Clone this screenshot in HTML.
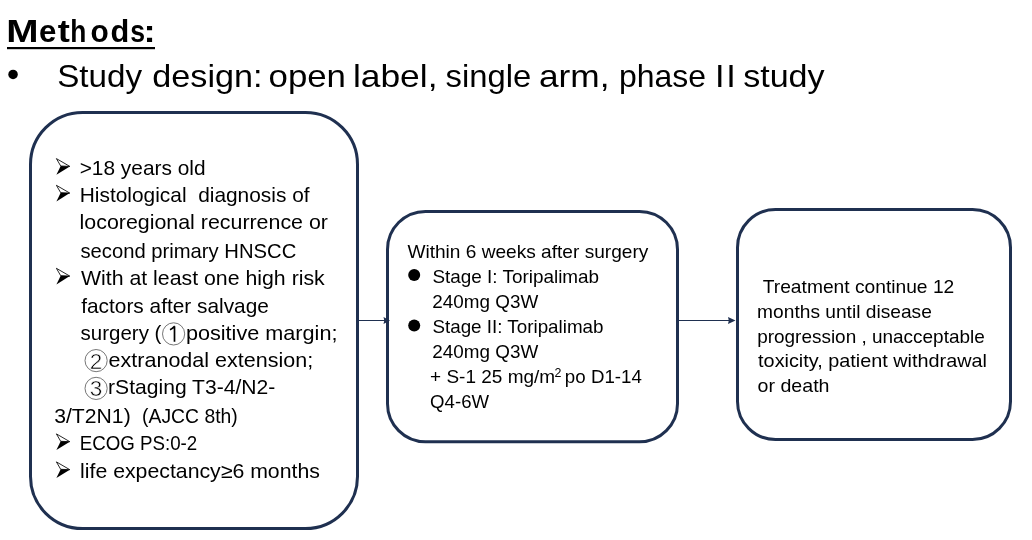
<!DOCTYPE html>
<html><head><meta charset="utf-8"><style>
html,body{margin:0;padding:0;background:#fff;width:1032px;height:540px;overflow:hidden}
svg{display:block;will-change:transform}
text{font-family:"Liberation Sans", sans-serif;fill:#000}
</style></head><body>
<svg width="1032" height="540" viewBox="0 0 1032 540">
<rect width="1032" height="540" fill="#fff"/>
<rect x="30.5" y="112.4" width="327" height="416.2" rx="52" ry="52" fill="none" stroke="#1f3050" stroke-width="3"/>
<rect x="387.5" y="211.4" width="290" height="230.3" rx="38" ry="38" fill="none" stroke="#1f3050" stroke-width="3"/>
<rect x="737.5" y="209.5" width="273" height="230" rx="38" ry="38" fill="none" stroke="#1f3050" stroke-width="3"/>
<line x1="359" y1="320.5" x2="386" y2="320.5" stroke="#1f3050" stroke-width="1.05"/>
<path d="M383.5,317 L390,320.5 L383.5,324 L384.3,320.5 Z" fill="#1f3050"/>
<line x1="679" y1="320.5" x2="731" y2="320.5" stroke="#1f3050" stroke-width="1.05"/>
<path d="M728,317 L735.5,320.5 L728,324 L728.8,320.5 Z" fill="#1f3050"/>
<rect x="7" y="47" width="148" height="2.2" fill="#000"/>
<circle cx="13.05" cy="74.4" r="4.75" fill="#000"/>
<path d="M56.40,158.60 L69.80,166.40 L60.70,166.00 Z" fill="#fff" stroke="#000" stroke-width="0.85" stroke-linejoin="miter"/>
<path d="M60.70,166.00 L69.80,166.40 L56.40,174.80 Z" fill="#000"/>
<path d="M56.40,185.30 L69.80,193.10 L60.70,192.70 Z" fill="#fff" stroke="#000" stroke-width="0.85" stroke-linejoin="miter"/>
<path d="M60.70,192.70 L69.80,193.10 L56.40,201.50 Z" fill="#000"/>
<path d="M56.40,268.30 L69.80,276.10 L60.70,275.70 Z" fill="#fff" stroke="#000" stroke-width="0.85" stroke-linejoin="miter"/>
<path d="M60.70,275.70 L69.80,276.10 L56.40,284.50 Z" fill="#000"/>
<path d="M56.40,433.90 L69.80,441.70 L60.70,441.30 Z" fill="#fff" stroke="#000" stroke-width="0.85" stroke-linejoin="miter"/>
<path d="M60.70,441.30 L69.80,441.70 L56.40,450.10 Z" fill="#000"/>
<path d="M56.40,461.90 L69.80,469.70 L60.70,469.30 Z" fill="#fff" stroke="#000" stroke-width="0.85" stroke-linejoin="miter"/>
<path d="M60.70,469.30 L69.80,469.70 L56.40,478.10 Z" fill="#000"/>
<circle cx="173.60" cy="333.90" r="11.1" fill="none" stroke="#666" stroke-width="0.9"/>
<path d="M174.50,326.30 L174.50,341.80 M174.80,326.10 Q172.10,328.90 170.00,329.70" fill="none" stroke="#000" stroke-width="1.7"/>
<circle cx="96.10" cy="360.60" r="11.1" fill="none" stroke="#666" stroke-width="0.9"/>
<text x="96.10" y="368.50" font-size="22.5" text-anchor="middle" stroke="#fff" stroke-width="0.5">2</text>
<circle cx="96.10" cy="388.40" r="11.1" fill="none" stroke="#666" stroke-width="0.9"/>
<text x="96.10" y="396.30" font-size="22.5" text-anchor="middle" stroke="#fff" stroke-width="0.5">3</text>
<circle cx="414.2" cy="275.1" r="6" fill="#000"/>
<circle cx="414.2" cy="325.6" r="6" fill="#000"/>
<text x="554.5" y="376.50" font-size="12.3" textLength="6.9" lengthAdjust="spacingAndGlyphs">2</text>
<text x="6.31" y="42.40" font-size="32" font-weight="bold" textLength="32.29" lengthAdjust="spacingAndGlyphs" xml:space="preserve">M</text>
<text x="39.08" y="42.40" font-size="32" font-weight="bold" textLength="17.39" lengthAdjust="spacingAndGlyphs" xml:space="preserve">e</text>
<text x="57.66" y="42.40" font-size="32" font-weight="bold" textLength="12.09" lengthAdjust="spacingAndGlyphs" xml:space="preserve">t</text>
<text x="70.26" y="42.40" font-size="32" font-weight="bold" textLength="16.07" lengthAdjust="spacingAndGlyphs" xml:space="preserve">h</text>
<text x="90.43" y="42.40" font-size="32" font-weight="bold" textLength="18.23" lengthAdjust="spacingAndGlyphs" xml:space="preserve">o</text>
<text x="110.54" y="42.40" font-size="32" font-weight="bold" textLength="18.79" lengthAdjust="spacingAndGlyphs" xml:space="preserve">d</text>
<text x="130.26" y="42.40" font-size="32" font-weight="bold" textLength="14.83" lengthAdjust="spacingAndGlyphs" xml:space="preserve">s</text>
<text x="143.51" y="42.40" font-size="32" font-weight="bold" textLength="12.08" lengthAdjust="spacingAndGlyphs" xml:space="preserve">:</text>
<text x="57.19" y="87.20" font-size="32" font-weight="normal" textLength="84.87" lengthAdjust="spacingAndGlyphs" xml:space="preserve">Study</text>
<text x="152.26" y="87.20" font-size="32" font-weight="normal" textLength="110.26" lengthAdjust="spacingAndGlyphs" xml:space="preserve">design:</text>
<text x="268.54" y="87.20" font-size="32" font-weight="normal" textLength="77.42" lengthAdjust="spacingAndGlyphs" xml:space="preserve">open</text>
<text x="352.92" y="87.20" font-size="32" font-weight="normal" textLength="84.56" lengthAdjust="spacingAndGlyphs" xml:space="preserve">label,</text>
<text x="445.59" y="87.20" font-size="32" font-weight="normal" textLength="85.67" lengthAdjust="spacingAndGlyphs" xml:space="preserve">single</text>
<text x="539.00" y="87.20" font-size="32" font-weight="normal" textLength="70.57" lengthAdjust="spacingAndGlyphs" xml:space="preserve">arm,</text>
<text x="618.94" y="87.20" font-size="32" font-weight="normal" textLength="86.98" lengthAdjust="spacingAndGlyphs" xml:space="preserve">phase</text>
<text x="715.03" y="87.20" font-size="32" font-weight="normal" textLength="9.53" lengthAdjust="spacingAndGlyphs" xml:space="preserve">I</text>
<text x="726.23" y="87.20" font-size="32" font-weight="normal" textLength="9.53" lengthAdjust="spacingAndGlyphs" xml:space="preserve">I</text>
<text x="743.15" y="87.20" font-size="32" font-weight="normal" textLength="81.41" lengthAdjust="spacingAndGlyphs" xml:space="preserve">study</text>
<text x="79.67" y="175.00" font-size="20.2" font-weight="normal" textLength="125.88" lengthAdjust="spacingAndGlyphs" xml:space="preserve">&gt;18 years old</text>
<text x="79.79" y="201.70" font-size="20.2" font-weight="normal" textLength="229.78" lengthAdjust="spacingAndGlyphs" xml:space="preserve">Histological  diagnosis of</text>
<text x="79.56" y="229.20" font-size="20.2" font-weight="normal" textLength="248.40" lengthAdjust="spacingAndGlyphs" xml:space="preserve">locoregional recurrence or</text>
<text x="80.44" y="257.50" font-size="20.2" font-weight="normal" textLength="215.83" lengthAdjust="spacingAndGlyphs" xml:space="preserve">second primary HNSCC</text>
<text x="80.91" y="284.70" font-size="20.2" font-weight="normal" textLength="243.86" lengthAdjust="spacingAndGlyphs" xml:space="preserve">With at least one high risk</text>
<text x="81.20" y="312.50" font-size="20.2" font-weight="normal" textLength="187.72" lengthAdjust="spacingAndGlyphs" xml:space="preserve">factors after salvage</text>
<text x="80.63" y="340.00" font-size="20.2" font-weight="normal" textLength="80.79" lengthAdjust="spacingAndGlyphs" xml:space="preserve">surgery (</text>
<text x="185.90" y="340.00" font-size="20.2" font-weight="normal" textLength="151.54" lengthAdjust="spacingAndGlyphs" xml:space="preserve">positive margin;</text>
<text x="108.59" y="366.80" font-size="20.2" font-weight="normal" textLength="204.55" lengthAdjust="spacingAndGlyphs" xml:space="preserve">extranodal extension;</text>
<text x="108.10" y="394.30" font-size="20.2" font-weight="normal" textLength="167.24" lengthAdjust="spacingAndGlyphs" xml:space="preserve">rStaging T3-4/N2-</text>
<text x="54.19" y="423.30" font-size="20.2" font-weight="normal" textLength="76.52" lengthAdjust="spacingAndGlyphs" xml:space="preserve">3/T2N1)</text>
<text x="142.10" y="423.30" font-size="20.2" font-weight="normal" textLength="95.60" lengthAdjust="spacingAndGlyphs" xml:space="preserve">(AJCC 8th)</text>
<text x="79.66" y="450.30" font-size="20.2" font-weight="normal" textLength="117.58" lengthAdjust="spacingAndGlyphs" xml:space="preserve">ECOG PS:0-2</text>
<text x="80.07" y="478.30" font-size="20.2" font-weight="normal" textLength="239.80" lengthAdjust="spacingAndGlyphs" xml:space="preserve">life expectancy≥6 months</text>
<text x="407.42" y="257.50" font-size="18.5" font-weight="normal" textLength="240.92" lengthAdjust="spacingAndGlyphs" xml:space="preserve">Within 6 weeks after surgery</text>
<text x="432.44" y="282.50" font-size="18.5" font-weight="normal" textLength="166.65" lengthAdjust="spacingAndGlyphs" xml:space="preserve">Stage I: Toripalimab</text>
<text x="432.35" y="307.50" font-size="18.5" font-weight="normal" textLength="106.01" lengthAdjust="spacingAndGlyphs" xml:space="preserve">240mg Q3W</text>
<text x="432.45" y="332.50" font-size="18.5" font-weight="normal" textLength="171.04" lengthAdjust="spacingAndGlyphs" xml:space="preserve">Stage II: Toripalimab</text>
<text x="432.35" y="357.50" font-size="18.5" font-weight="normal" textLength="106.01" lengthAdjust="spacingAndGlyphs" xml:space="preserve">240mg Q3W</text>
<text x="430.07" y="382.50" font-size="18.5" font-weight="normal" textLength="125.08" lengthAdjust="spacingAndGlyphs" xml:space="preserve">+ S-1 25 mg/m</text>
<text x="564.89" y="382.50" font-size="18.5" font-weight="normal" textLength="76.95" lengthAdjust="spacingAndGlyphs" xml:space="preserve">po D1-14</text>
<text x="430.12" y="407.50" font-size="18.5" font-weight="normal" textLength="58.95" lengthAdjust="spacingAndGlyphs" xml:space="preserve">Q4-6W</text>
<text x="762.77" y="293.00" font-size="18.6" font-weight="normal" textLength="191.50" lengthAdjust="spacingAndGlyphs" xml:space="preserve">Treatment continue 12</text>
<text x="757.13" y="317.75" font-size="18.6" font-weight="normal" textLength="174.72" lengthAdjust="spacingAndGlyphs" xml:space="preserve">months until disease</text>
<text x="757.18" y="342.50" font-size="18.6" font-weight="normal" textLength="227.56" lengthAdjust="spacingAndGlyphs" xml:space="preserve">progression , unacceptable</text>
<text x="758.10" y="367.25" font-size="18.6" font-weight="normal" textLength="228.83" lengthAdjust="spacingAndGlyphs" xml:space="preserve">toxicity, patient withdrawal</text>
<text x="757.58" y="392.00" font-size="18.6" font-weight="normal" textLength="71.90" lengthAdjust="spacingAndGlyphs" xml:space="preserve">or death</text>
</svg>
</body></html>
